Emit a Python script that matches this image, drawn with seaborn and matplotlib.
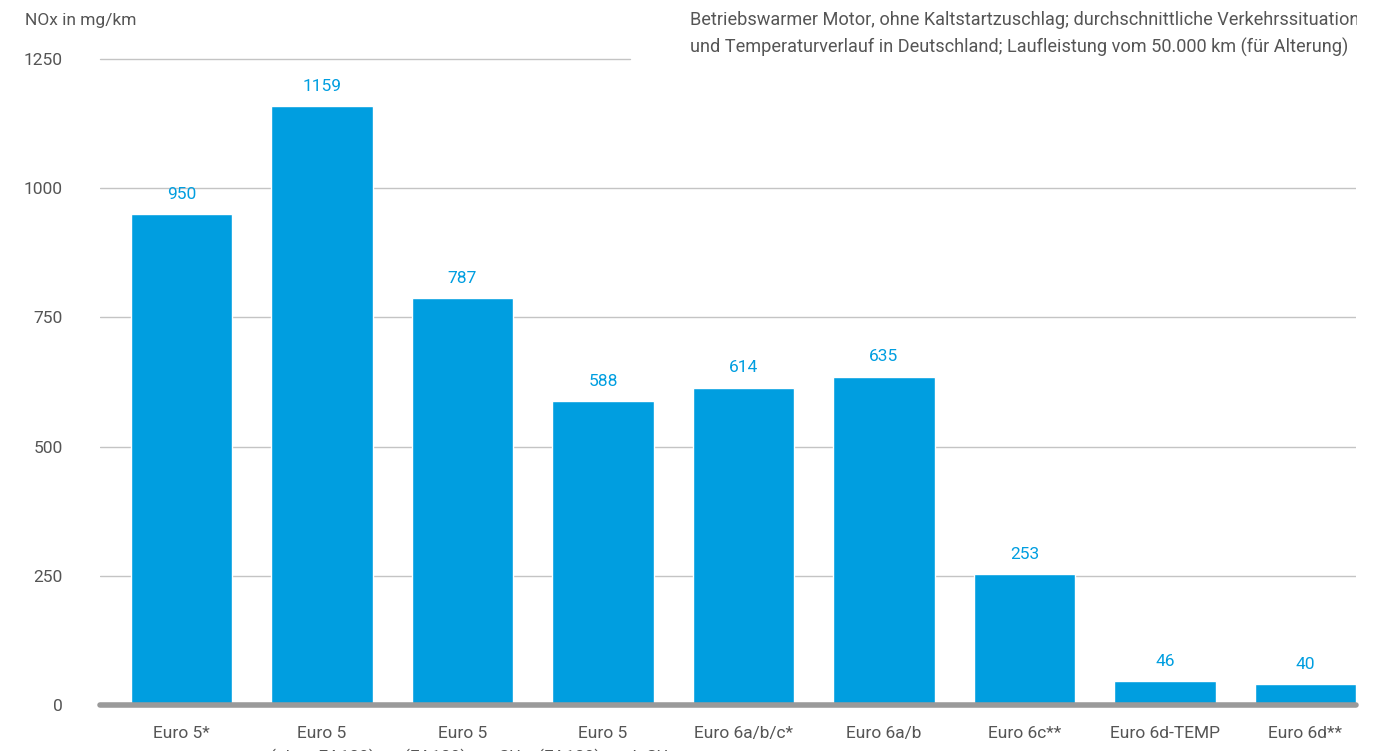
import matplotlib
matplotlib.use("Agg")
import matplotlib.pyplot as plt
import seaborn as sns
from matplotlib.transforms import Bbox, TransformedBbox

categories = ["Euro 5*", "Euro 5\n(ohne EA189)", "Euro 5\n(EA189) vor SU", "Euro 5\n(EA189) nach SU",
              "Euro 6a/b/c*", "Euro 6a/b", "Euro 6c**", "Euro 6d-TEMP", "Euro 6d**"]
values = [950, 1159, 787, 588, 614, 635, 253, 46, 40]
yticks = [0, 250, 500, 750, 1000, 1250]
ylabel = "NOx in mg/km"
note = ("Betriebswarmer Motor, ohne Kaltstartzuschlag; durchschnittliche Verkehrssituation\n"
        "und Temperaturverlauf in Deutschland; Laufleistung vom 50.000 km (für Alterung)")

sns.set_theme(style="white")
plt.rcParams['font.family'] = ['Roboto', 'DejaVu Sans']

BLUE = "#009EE0"
GRAY = "#555555"
FS = 12.5

fig = plt.figure(figsize=(13.92, 7.51), dpi=100)
W, H = 1392, 751
ax = fig.add_axes([100 / W, 1 - 705 / H, (1356 - 100) / W, (705 - 59) / H])

sns.barplot(x=categories, y=values, color=BLUE, saturation=1, width=0.72, ax=ax, zorder=3)

ax.set_xlim(-0.58, 8.36)
ax.set_ylim(0, 1250)
for s in ax.spines.values():
    s.set_visible(False)

for y in yticks[1:-1]:
    ax.axhline(y, color="#c4c4c4", lw=1, zorder=1)
ax.plot([-0.58, (630 - 181.5) / 140.5], [1250, 1250], color="#c4c4c4", lw=1, zorder=1, clip_on=False)
ax.axhline(0, color="#9a9a9a", lw=4, zorder=4, clip_on=False)

ax.set_yticks(yticks)
ax.set_yticklabels([str(t) for t in yticks], fontsize=FS, color=GRAY)
ax.tick_params(axis="y", length=0, pad=27)
ax.tick_params(axis="x", length=0, pad=15, labelsize=FS, labelcolor=GRAY)
for lbl in ax.get_xticklabels():
    lbl.set_linespacing(1.58)
    lbl.set_verticalalignment("top")
ax.set_xlabel("")
ax.set_ylabel("")

for i, v in enumerate(values):
    ax.annotate(str(v), (i, v), xytext=(0, 9), textcoords="offset points",
                ha="center", va="bottom", color=BLUE, fontsize=FS)

fig.text(25 / W, 1 - 20 / H, ylabel, fontsize=FS, color=GRAY, ha="left", va="center")
t = fig.text(690 / W, 1 - 34 / H, note, fontsize=13.1, color=GRAY, ha="left", va="center", linespacing=1.55)
t.set_clip_on(True)
t.set_clip_box(TransformedBbox(Bbox([[0, 0], [1357 / W, 1]]), fig.transFigure))

fig.savefig("out.png", dpi=100)
